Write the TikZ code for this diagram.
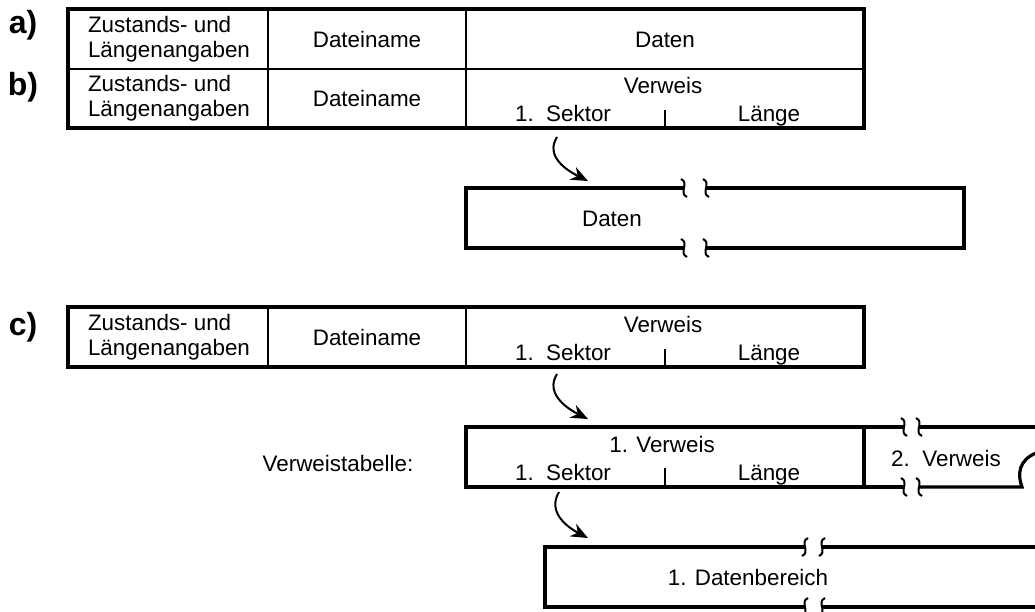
\documentclass[tikz,border=0pt]{standalone}
\usepackage{fontspec}
\setmainfont{Liberation Sans}
\usetikzlibrary{arrows.meta}
\begin{document}
\begin{tikzpicture}[x=1pt,y=-1pt,
  frame/.style={line width=3.2pt, line join=miter},
  rule/.style={line width=2.4pt},
  tick/.style={line width=2.8pt},
  txt/.style={font=\fontsize{22.4}{25}\selectfont, inner sep=0pt},
  bt/.style={txt, anchor=base},
  lbl/.style={font=\fontsize{32}{32}\selectfont\bfseries, inner sep=0pt},
  ptr/.style={line width=2pt, -{Stealth[length=17pt,width=14pt]}},
  brkmark/.pic={\draw[line width=2pt] (-3,-9) .. controls (6,-5) and (-6,5) .. (3,9);}
]
\useasboundingbox (0,0) rectangle (1035,611);

% part labels
\node[lbl] (la) at (23,25) {a)};
\node[lbl] (lb) at (23,87) {b)};
\node[lbl] (lc) at (23,327) {c)};

% directory entries a) and b)
\draw[rule] (68,69) -- (864,69);
\draw[rule] (268,9) -- (268,128);
\draw[rule] (466,9) -- (466,128);
\draw[tick] (665,110) -- (665,128);
\draw[frame] (68,9) rectangle (864,128);

\node[txt, align=left] (za) at (169,39) {Zustands- und\\Längenangaben};
\node[bt] (na) at (367,47) {Dateiname};
\node[bt] (dta) at (665,47) {Daten};

\node[txt, align=left] (zb) at (169,98) {Zustands- und\\Längenangaben};
\node[bt] (nb) at (367,106) {Dateiname};
\node[bt] (vb) at (663,93) {Verweis};
\node[bt] (sb) at (563,121) {1.~~Sektor};
\node[bt] (lgb) at (769,121) {Länge};

% data area referenced in b)
\draw[frame] (684,188) -- (466,188) -- (466,248) -- (684,248);
\draw[frame] (706,188) -- (964,188) -- (964,248) -- (706,248);
\pic at (684,188) {brkmark};
\pic at (706,188) {brkmark};
\pic at (684,248) {brkmark};
\pic at (706,248) {brkmark};
\node[bt] (db) at (612,226) {Daten};

\coordinate (pb0) at (557,137);
\coordinate (pb1) at (588,181);
\draw[ptr] (pb0) .. controls (545,156) and (566,170) .. (pb1);

% directory entry c)
\draw[rule] (268,307) -- (268,367);
\draw[rule] (466,307) -- (466,367);
\draw[tick] (665,349) -- (665,367);
\draw[frame] (68,307) rectangle (864,367);

\node[txt, align=left] (zc) at (169,337) {Zustands- und\\Längenangaben};
\node[bt] (nc) at (367,345) {Dateiname};
\node[bt] (vc) at (663,332) {Verweis};
\node[bt] (sc) at (563,360) {1.~~Sektor};
\node[bt] (lgc) at (769,360) {Länge};

\coordinate (pc0) at (557,374);
\coordinate (pc1) at (588,419);
\draw[ptr] (pc0) .. controls (545,393) and (566,408) .. (pc1);

% pointer table
\node[bt] (vt) at (338,471) {Verweistabelle:};
\draw[frame] (904,427) -- (466,427) -- (466,487) -- (904,487);
\draw[frame] (864,427) -- (864,487);
\draw[frame] (919,427) -- (1036,427);
\draw[frame] (919,487) -- (1022,487) .. controls (1017,474) and (1019,460) .. (1036,453);
\pic at (904,427) {brkmark};
\pic at (919,427) {brkmark};
\pic at (904,487) {brkmark};
\pic at (919,487) {brkmark};
\draw[tick] (665,468) -- (665,487);
\node[bt] (v1) at (662,452) {1. Verweis};
\node[bt] (s1) at (563,480) {1.~~Sektor};
\node[bt] (l1) at (769,480) {Länge};
\node[bt] (v2) at (946,466) {2.~~Verweis};

\coordinate (pd0) at (559,492);
\coordinate (pd1) at (588,538);
\draw[ptr] (pd0) .. controls (547,512) and (567,527) .. (pd1);

% first data area
\draw[frame] (805,547) -- (545,547) -- (545,607) -- (805,607);
\draw[frame] (822,547) -- (1036,547);
\draw[frame] (822,607) -- (1036,607);
\pic[xscale=-1] at (805,547) {brkmark};
\pic[xscale=-1] at (822,547) {brkmark};
\pic[xscale=-1] at (805,607) {brkmark};
\pic[xscale=-1] at (822,607) {brkmark};
\node[bt] (d1) at (748,585) {1. Datenbereich};
\end{tikzpicture}
\end{document}
